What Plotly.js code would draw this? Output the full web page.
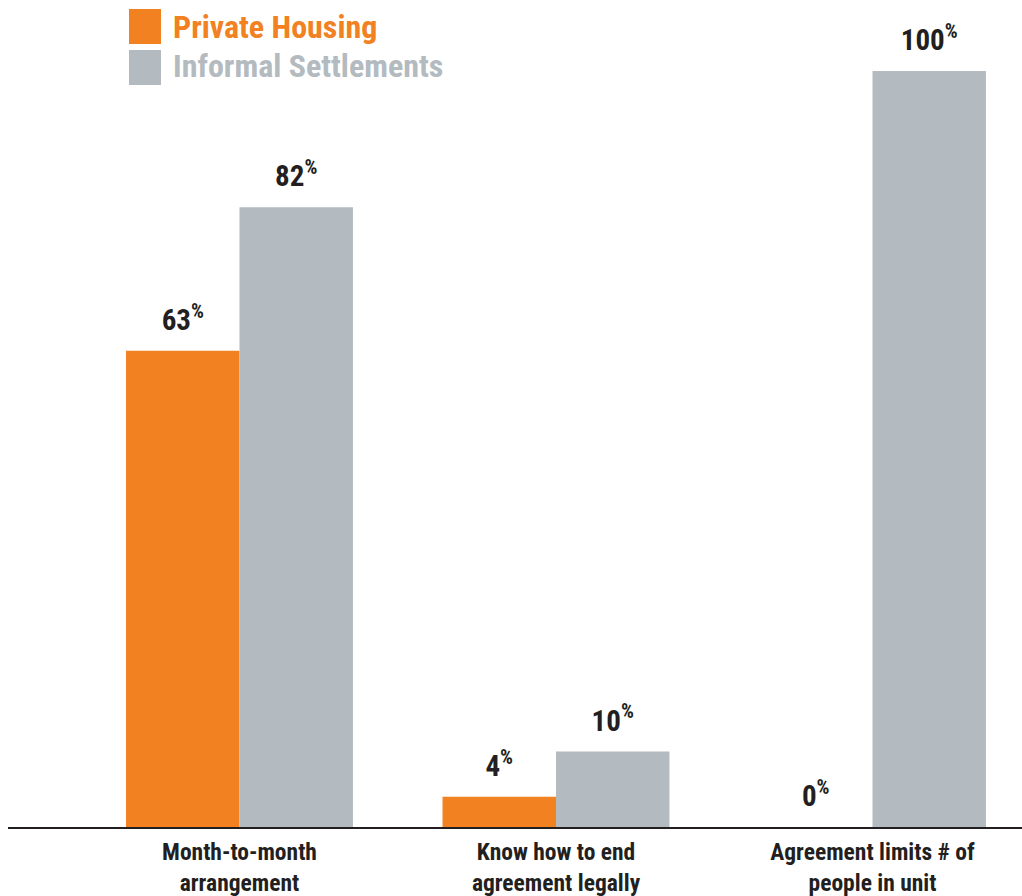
<!DOCTYPE html>
<html>
<head>
<meta charset="utf-8">
<script src="https://cdn.plot.ly/plotly-3.0.1.min.js"></script>
<style>html,body{margin:0;padding:0;background:#fff;}#chart{width:1022px;height:896px;}</style>
</head>
<body>
<div id="chart"></div>
<script>
const categories = ["Month-to-month<br>arrangement", "Know how to end<br>agreement legally", "Agreement limits # of<br>people in unit"];
const seriesNames = ["Private Housing", "Informal Settlements"];
const privateHousing = [63, 4, 0];
const informalSettlements = [82, 10, 100];
const colors = ["#F28122", "#B3BAC0"];
const textColor = "#231F20";
const FONT = "'Roboto Condensed', 'Liberation Sans Narrow', sans-serif";

function pctLabel(v) { return "<b>" + v + "<sup>%</sup></b>"; }

const gap = 0.283;
const series = [privateHousing, informalSettlements];
const traces = [];
series.forEach((vals, i) => {
  traces.push({
    type: "bar", x: categories, y: vals, name: seriesNames[i],
    marker: {color: colors[i], line: {width: 0}},
    hoverinfo: "skip", showlegend: false
  });
});
series.forEach((vals, i) => {
  traces.push({
    type: "scatter", mode: "markers+text", x: categories, y: vals,
    text: vals.map(pctLabel), textposition: "top center",
    textfont: {family: FONT, size: 29, color: textColor},
    marker: {size: 20, opacity: 0},
    cliponaxis: false, hoverinfo: "skip", showlegend: false
  });
});

const W = 1022, H = 896, ml = 8, mb = 69;
const pw = W - ml, ph = H - mb;
const px = x => (x - ml) / pw;
const py = y => 1 - y / ph;

const shapes = [
  {type: "rect", xref: "paper", yref: "paper", x0: px(129), x1: px(161), y0: py(44), y1: py(9), fillcolor: colors[0], line: {width: 0}},
  {type: "rect", xref: "paper", yref: "paper", x0: px(129), x1: px(161), y0: py(85), y1: py(50), fillcolor: colors[1], line: {width: 0}}
];
const annotations = seriesNames.map((n, i) => ({
  xref: "paper", yref: "paper", x: px(171), y: py(i === 0 ? 27 : 66),
  xanchor: "left", yanchor: "middle", showarrow: false,
  text: "<b>" + n + "</b>", font: {family: FONT, size: 32, color: colors[i]}
}));

const layout = {
  width: W, height: H,
  margin: {l: ml, r: 0, t: 0, b: mb, pad: 0},
  paper_bgcolor: "#fff", plot_bgcolor: "#fff",
  barmode: "group", bargap: gap, bargroupgap: 0,
  scattermode: "group", scattergap: gap,
  showlegend: false,
  xaxis: {
    type: "category", range: [-0.7314, 2.4724], fixedrange: true,
    showline: true, linecolor: textColor, linewidth: 2,
    ticks: "", showgrid: false, zeroline: false, automargin: false,
    ticklabelstandoff: 3,
    tickfont: {family: FONT, size: 23.5, color: textColor},
    tickprefix: "<b>", ticksuffix: "</b>"
  },
  yaxis: {range: [0, 109.4], visible: false, showgrid: false, zeroline: false, fixedrange: true},
  shapes: shapes, annotations: annotations
};

Plotly.newPlot("chart", traces, layout, {displayModeBar: false, staticPlot: true});
</script>
</body>
</html>
